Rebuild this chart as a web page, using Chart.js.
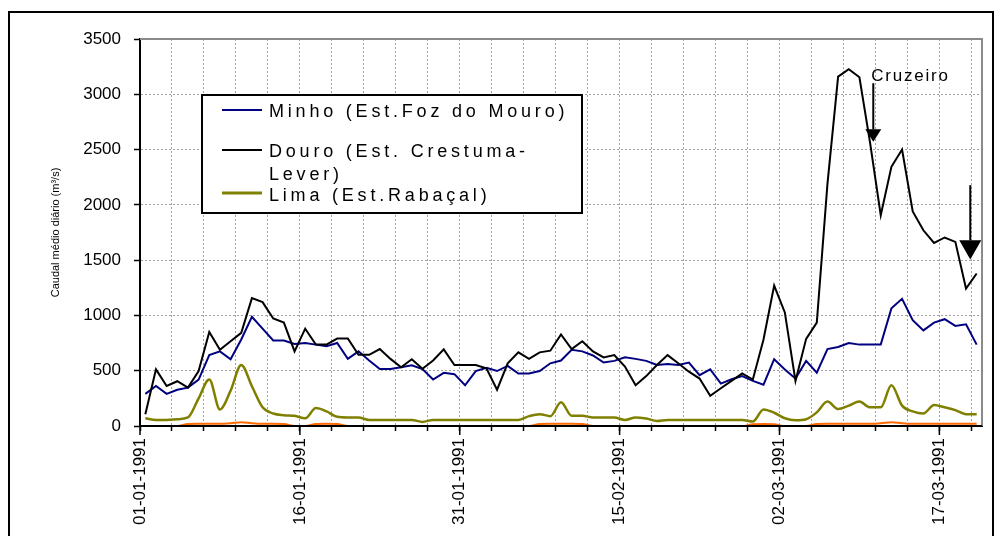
<!DOCTYPE html>
<html>
<head>
<meta charset="utf-8">
<script src="https://cdn.jsdelivr.net/npm/chart.js@4"></script>
<style>
body { margin: 0; background: #fff; }
canvas { display: block; }
</style>
</head>
<body>
<canvas id="chartCanvas" width="1000" height="536"></canvas>
<script>
// tick labels on the day axis (one every 15 days, from 01-01-1991)
var tickLabels = ['01-01-1991', '16-01-1991', '31-01-1991', '15-02-1991', '02-03-1991', '17-03-1991'];
var seriesNames = ['Minho (Est.Foz do Mouro)', 'Douro (Est. Crestuma-Lever)', 'Lima (Est.Rabaçal)'];
var yTitle = 'Caudal médio diário (m³/s)';

// daily mean flow, 01-01-1991 .. 20-03-1991
var minho = [291, 362, 291, 328, 347, 420, 641, 675, 604, 782,
    988, 880, 773, 773, 742, 751, 736, 721, 751, 607,
    675, 592, 515, 515, 531, 549, 515, 420, 481, 469,
    368, 497, 527, 497, 543, 475, 475, 497, 567, 592,
    690, 675, 638, 574, 589, 622, 607, 589, 552, 561,
    552, 574, 460, 512, 383, 423, 451, 408, 374, 604,
    512, 429, 589, 482, 696, 715, 751, 736, 736, 736,
    1064, 1150, 957, 865, 935, 966, 905, 920, 736];

var douro = [107, 512, 362, 405, 347, 497, 850, 690, 767, 843,
    1156, 1120, 972, 935, 675, 880, 736, 736, 791, 791,
    644, 644, 696, 607, 531, 604, 518, 592, 693, 552,
    552, 552, 521, 328, 567, 666, 607, 666, 681, 828,
    696, 767, 675, 620, 641, 537, 368, 451, 552, 641,
    567, 491, 429, 273, 341, 408, 475, 420, 782, 1270,
    1027, 408, 788, 935, 2190, 3160, 3226, 3154, 2560, 1907,
    2344, 2500, 1940, 1770, 1656, 1705, 1665, 1243, 1379];

var lima = [70, 55, 55, 61, 77, 250, 420, 150, 320, 552,
    360, 169, 113, 98, 92, 70, 162, 132, 83, 77,
    77, 55, 55, 55, 55, 55, 37, 55, 55, 55,
    55, 55, 55, 55, 55, 55, 89, 107, 89, 215,
    92, 92, 77, 77, 77, 55, 77, 67, 46, 55,
    55, 55, 55, 55, 55, 55, 55, 40, 150, 120,
    70, 52, 61, 123, 221, 153, 184, 221, 169, 169,
    368, 184, 132, 113, 190, 169, 144, 107, 107];

// fourth station (not named in the legend)
var other = [0, 0, 0, 0, 18, 20, 20, 20, 25, 35,
    25, 20, 20, 18, 0, 0, 18, 20, 18, 0,
    0, 0, 0, 0, 0, 0, 0, 0, 0, 0,
    0, 0, 0, 0, 0, 0, 0, 18, 20, 20,
    20, 18, 0, 0, 0, 0, 0, 0, 0, 0,
    0, 0, 0, 0, 0, 0, 0, 15, 18, 15,
    0, 0, 0, 18, 20, 20, 20, 20, 20, 25,
    35, 25, 20, 20, 20, 20, 20, 20, 20];

// annotations, in axis units (day, m3/s)
var noteText = 'Cruzeiro';
var noteAt = [68.6, 3123];
var arrows = [
    { day: 68.8, from: 3100, head: 2683, to: 2571, w: 16 },
    { day: 77.9, from: 2178, head: 1680, to: 1505, w: 22 }
];

var FONT = 'Liberation Sans, Arial, sans-serif';
Chart.defaults.font.family = FONT;
Chart.defaults.color = '#000';

function toPoints(arr) {
    return arr.map(function (v, i) { return { x: i + 0.5, y: v }; });
}

var decorPlugin = {
    id: 'decor',
    afterDatasetsDraw: function (chart) {
        var ctx = chart.ctx, a = chart.chartArea, xs = chart.scales.x;
        ctx.save();
        ctx.strokeStyle = '#8a8a8a';
        ctx.lineWidth = 2;
        ctx.beginPath();
        ctx.moveTo(a.left, a.top);
        ctx.lineTo(a.right, a.top);
        ctx.lineTo(a.right, a.bottom);
        ctx.stroke();

        ctx.strokeStyle = '#000';
        ctx.lineWidth = 2;
        ctx.beginPath();
        ctx.moveTo(a.left - 1, a.bottom);
        ctx.lineTo(a.right, a.bottom);
        ctx.stroke();

        ctx.lineWidth = 1.5;
        ctx.beginPath();
        for (var i = 0; i < tickLabels.length; i++) {
            var px = xs.getPixelForValue(i * 15);
            ctx.moveTo(px, a.bottom);
            ctx.lineTo(px, a.bottom + 9);
        }
        ctx.stroke();
        ctx.restore();
    },
    afterDraw: function (chart) {
        var ctx = chart.ctx, xs = chart.scales.x, ys = chart.scales.y;
        ctx.save();

        // arrows
        ctx.strokeStyle = '#000';
        ctx.fillStyle = '#000';
        arrows.forEach(function (ar) {
            var px = xs.getPixelForValue(ar.day);
            var y0 = ys.getPixelForValue(ar.from);
            var yh = ys.getPixelForValue(ar.head);
            var yt = ys.getPixelForValue(ar.to);
            ctx.lineWidth = 2;
            ctx.beginPath();
            ctx.moveTo(px, y0);
            ctx.lineTo(px, yh);
            ctx.stroke();
            ctx.beginPath();
            ctx.moveTo(px - ar.w / 2, yh);
            ctx.lineTo(px + ar.w / 2, yh);
            ctx.lineTo(px, yt);
            ctx.closePath();
            ctx.fill();
        });

        ctx.font = '17px ' + FONT;
        ctx.letterSpacing = '1.8px';
        ctx.textBaseline = 'alphabetic';
        ctx.fillText(noteText, xs.getPixelForValue(noteAt[0]), ys.getPixelForValue(noteAt[1]));

        // legend box
        var bx = 202, by = 95, bw = 380, bh = 118;
        ctx.fillStyle = '#fff';
        ctx.fillRect(bx, by, bw, bh);
        ctx.lineWidth = 2;
        ctx.strokeStyle = '#000';
        ctx.strokeRect(bx, by, bw, bh);

        var colors = ['#000080', '#000000', '#808000'];
        var widths = [2, 2, 3];
        var lineY = [15, 55, 98];
        for (var i = 0; i < 3; i++) {
            ctx.strokeStyle = colors[i];
            ctx.lineWidth = widths[i];
            ctx.beginPath();
            ctx.moveTo(bx + 20, by + lineY[i]);
            ctx.lineTo(bx + 60, by + lineY[i]);
            ctx.stroke();
        }
        ctx.fillStyle = '#000';
        ctx.font = '18px ' + FONT;
        ctx.letterSpacing = '3.8px';
        ctx.fillText(seriesNames[0], bx + 67, by + 22);
        var douroParts = seriesNames[1].split('-');
        ctx.fillText(douroParts[0] + '-', bx + 67, by + 62);
        ctx.fillText(douroParts[1], bx + 67, by + 85);
        ctx.fillText(seriesNames[2], bx + 67, by + 106);
        ctx.letterSpacing = '0px';

        // outer frame
        ctx.strokeStyle = '#000';
        ctx.lineWidth = 2;
        ctx.strokeRect(9, 12, 984, 600);
        ctx.restore();
    }
};

var ctx = document.getElementById('chartCanvas').getContext('2d');

var chart = new Chart(ctx, {
    type: 'line',
    data: {
        datasets: [
            { label: seriesNames[0], data: toPoints(minho), borderColor: '#000080', borderWidth: 2, order: 1 },
            { label: seriesNames[1], data: toPoints(douro), borderColor: '#000000', borderWidth: 2, order: 0 },
            { label: seriesNames[2], data: toPoints(lima), borderColor: '#808000', borderWidth: 2.5, order: 2, cubicInterpolationMode: 'monotone' },
            { label: 'other', data: toPoints(other), borderColor: '#ff6a00', borderWidth: 2, order: 3, cubicInterpolationMode: 'monotone' }
        ]
    },
    options: {
        responsive: false,
        animation: false,
        events: [],
        elements: { point: { radius: 0 }, line: { tension: 0 } },
        layout: { padding: { left: 0, top: 39, right: 18, bottom: 0 } },
        plugins: { legend: { display: false }, tooltip: { enabled: false } },
        scales: {
            x: {
                type: 'linear',
                min: 0,
                max: 79,
                afterFit: function (s) { s.height = 110; },
                ticks: {
                    stepSize: 3,
                    includeBounds: false,
                    autoSkip: false,
                    minRotation: 90,
                    maxRotation: 90,
                    padding: 7,
                    font: { size: 17 },
                    callback: function (value) {
                        return value % 15 === 0 ? tickLabels[value / 15] : '';
                    }
                },
                grid: { color: '#a0a0a0', tickColor: '#000', tickLength: 5, tickWidth: 1.5, tickBorderDash: [] },
                border: { color: '#000', width: 2, dash: [2, 2] }
            },
            y: {
                min: 0,
                max: 3500,
                afterFit: function (s) { s.width = 140; },
                ticks: {
                    stepSize: 500,
                    padding: 13,
                    font: { size: 17 },
                    callback: function (value) { return String(value); }
                },
                grid: { color: '#a0a0a0', tickColor: '#000', tickLength: 6, tickWidth: 1.5, tickBorderDash: [] },
                border: { color: '#000', width: 2, dash: [2, 2] },
                title: { display: true, text: yTitle, font: { size: 11 }, padding: { top: 49, bottom: 0 } }
            }
        }
    },
    plugins: [decorPlugin]
});
</script>
</body>
</html>
